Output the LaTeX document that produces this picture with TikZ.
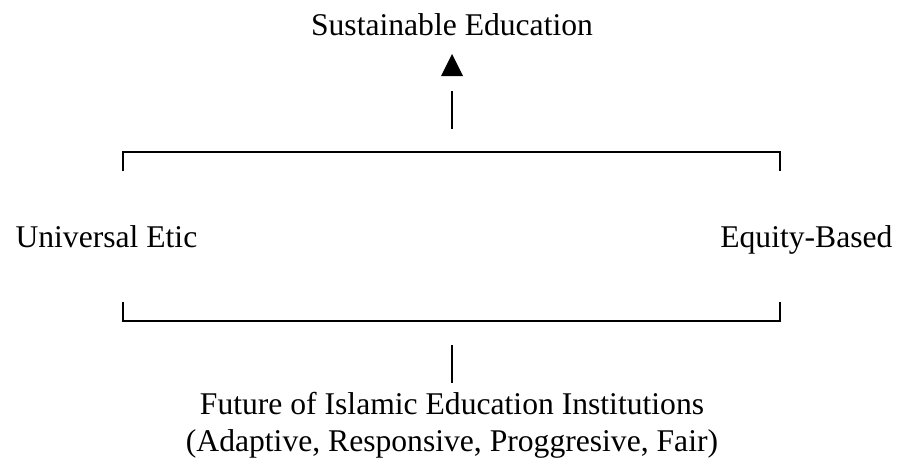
\documentclass[tikz,border=0pt,12pt]{standalone}
\usepackage{fontspec}
\setmainfont{Liberation Serif}
\usepackage{tikz}
\usetikzlibrary{positioning}

\tikzset{
  label text/.style={font=\fontsize{12}{14}\selectfont, inner sep=0pt, anchor=base},
  bracket/.style={line width=1pt},
}

\begin{document}
\begin{tikzpicture}[x=0.3795pt,y=-0.3795pt]
\useasboundingbox (0,0) rectangle (898,466);

\node [label text] (goal) at (452,35) {Sustainable Education};
\node [label text, anchor=base west] (etic) at (15,247) {Universal Etic};
\node [label text, anchor=base east] (equity) at (893,247) {Equity-Based};
\node [label text] (future) at (452,414) {Future of Islamic Education Institutions};
\node [label text] (traits) at (452,451) {(Adaptive, Responsive, Proggresive, Fair)};

\coordinate (tipL) at (441,76);
\coordinate (tipR) at (463,76);
\coordinate (tipT) at (452,54);
\fill (tipL) -- (tipR) -- (tipT) -- cycle;

\coordinate (upA) at (452,91);
\coordinate (upB) at (452,129);
\draw [bracket] (upA) -- (upB);

\coordinate (topL) at (123,152);
\coordinate (topR) at (780,152);
\draw [bracket] ([yshift=-19*0.3795pt]topL) -- (topL) -- (topR) -- ([yshift=-19*0.3795pt]topR);

\coordinate (botL) at (123,321);
\coordinate (botR) at (780,321);
\draw [bracket] ([yshift=19*0.3795pt]botL) -- (botL) -- (botR) -- ([yshift=19*0.3795pt]botR);

\coordinate (lowA) at (452,345);
\coordinate (lowB) at (452,383);
\draw [bracket] (lowA) -- (lowB);
\end{tikzpicture}
\end{document}
